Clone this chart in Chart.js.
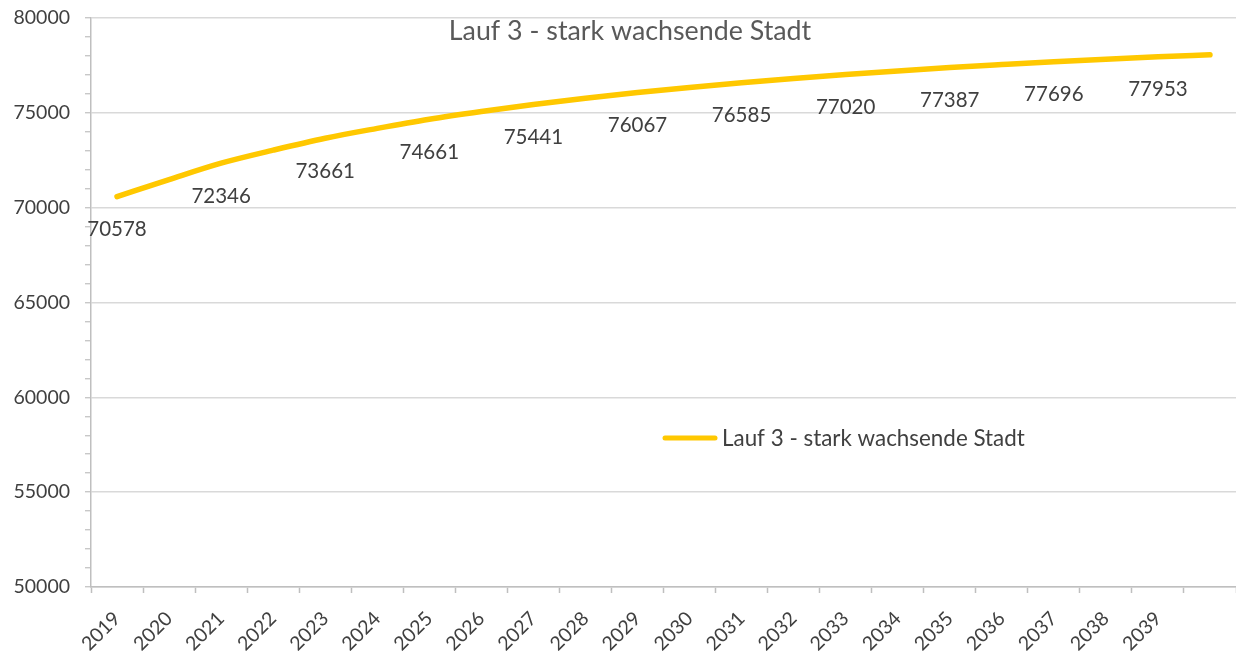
<!DOCTYPE html>
<html>
<head>
<meta charset="utf-8">
<script src="https://cdn.jsdelivr.net/npm/chart.js@4/dist/chart.umd.min.js"></script>
<style>
html,body{margin:0;padding:0;background:#fff;}
#wrap{width:1236px;height:651px;position:relative;}
</style>
</head>
<body>
<div id="wrap"><canvas id="c" width="1236" height="651"></canvas></div>
<script>
const categories = ['2019','2020','2021','2022','2023','2024','2025','2026','2027','2028','2029','2030','2031','2032','2033','2034','2035','2036','2037','2038','2039',''];
const seriesName = 'Lauf 3 - stark wachsende Stadt';
const values = [70578,71480,72346,73030,73661,74180,74661,75070,75441,75770,76067,76340,76585,76810,77020,77210,77387,77545,77696,77830,77953,78060];
const labeledIndices = [0,2,4,6,8,10,12,14,16,18,20];
const titleText = 'Lauf 3 - stark wachsende Stadt';

const FONT = 'Lato, "Open Sans", sans-serif';
const TEXT = '#404040';
const LINE = '#FFC800';
const PLOT_TOP = 18;
const PLOT_RIGHT = 1236;

const fixArea = {
  id: 'fixArea',
  afterLayout(chart) {
    const y = chart.scales.y;
    const x = chart.scales.x;
    const ca = chart.chartArea;
    ca.top = PLOT_TOP;
    ca.height = ca.bottom - ca.top;
    ca.right = PLOT_RIGHT;
    ca.width = ca.right - ca.left;
    y.top = PLOT_TOP;
    y.height = y.bottom - y.top;
    y.configure();
    x.right = PLOT_RIGHT;
    x.width = x.right - x.left;
    x.configure();
  }
};

const overlay = {
  id: 'overlay',
  afterDatasetsDraw(chart) {
    const ctx = chart.ctx;
    const meta = chart.getDatasetMeta(0);
    ctx.save();
    ctx.fillStyle = TEXT;
    ctx.font = '20.5px ' + FONT;
    ctx.textAlign = 'center';
    ctx.textBaseline = 'middle';
    labeledIndices.forEach(i => {
      const p = meta.data[i];
      ctx.fillText(String(values[i]), p.x, p.y + 33);
    });
    // title
    ctx.fillStyle = '#595959';
    ctx.font = '26.8px ' + FONT;
    ctx.fillText(titleText, 630, 31);
    // legend
    ctx.strokeStyle = LINE;
    ctx.lineWidth = 5;
    ctx.lineCap = 'round';
    ctx.beginPath();
    ctx.moveTo(665, 438);
    ctx.lineTo(715, 438);
    ctx.stroke();
    ctx.fillStyle = TEXT;
    ctx.font = '22.4px ' + FONT;
    ctx.textAlign = 'left';
    ctx.fillText(seriesName, 722, 439);
    ctx.restore();
  }
};

new Chart(document.getElementById('c'), {
  type: 'line',
  data: {
    labels: categories,
    datasets: [{
      label: seriesName,
      data: values,
      borderColor: LINE,
      borderWidth: 5.5,
      borderCapStyle: 'round',
      pointRadius: 0,
      cubicInterpolationMode: 'monotone',
      fill: false
    }]
  },
  options: {
    responsive: false,
    animation: false,
    layout: { padding: { top: 5, right: 0, left: 0, bottom: 0 } },
    plugins: { legend: { display: false }, title: { display: false }, tooltip: { enabled: false } },
    scales: {
      x: {
        offset: true,
        grid: { offset: true, drawOnChartArea: false, color: '#bfbfbf', tickLength: 6, tickWidth: 1.5 },
        border: { color: '#bfbfbf', width: 1.5 },
        ticks: {
          autoSkip: false, maxRotation: 45, minRotation: 45,
          color: TEXT, font: { family: FONT, size: 19.5 }, padding: 14
        },
        afterFit(s) { s.height = 64; }
      },
      y: {
        min: 50000, max: 80000,
        grid: {
          color: ctx => (ctx.tick && ctx.tick.value % 5000 === 0) ? '#d9d9d9' : 'rgba(0,0,0,0)',
          lineWidth: 1.5,
          tickColor: '#bfbfbf', tickLength: 6, tickWidth: 1.2
        },
        border: { color: '#bfbfbf', width: 1.5 },
        ticks: {
          stepSize: 1000, autoSkip: false,
          callback: v => (v % 5000 === 0 ? String(v) : ''),
          color: TEXT, font: { family: FONT, size: 19.5 }, padding: 15
        },
        afterFit(s) { s.width = 91; }
      }
    }
  },
  plugins: [fixArea, overlay]
});
</script>
</body>
</html>
